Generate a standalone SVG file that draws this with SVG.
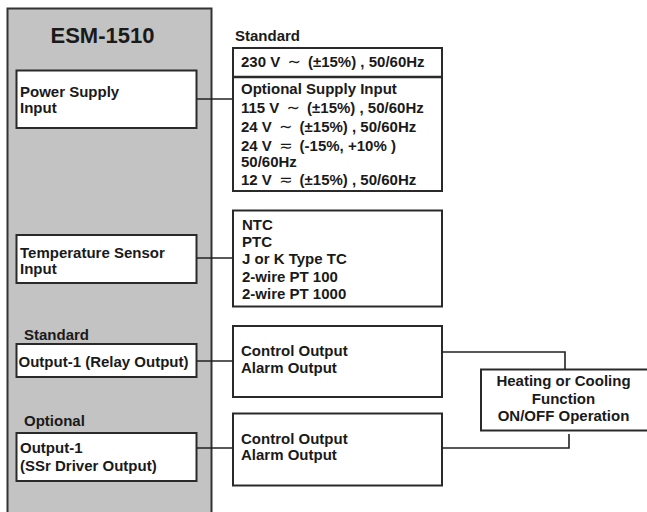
<svg xmlns="http://www.w3.org/2000/svg" width="647" height="512" viewBox="0 0 647 512">
<style>
text{font-family:"Liberation Sans",Arial,sans-serif;font-weight:bold;font-size:15px;fill:#1a1a1a}
.title{font-size:22px;text-anchor:middle}
.mid{text-anchor:middle}
.sym{font-family:"DejaVu Sans",sans-serif;font-weight:normal;font-size:16px}
.box{fill:#fff;stroke:#2a2a2a;stroke-width:2}
.panel{fill:#c3c3c3;stroke:#333;stroke-width:2}
.conn{fill:none;stroke:#222;stroke-width:1.6}
</style>
<g id="panel">
<rect class="panel" x="7.5" y="8.5" width="204" height="520"/>
<text class="title" x="102.5" y="43">ESM-1510</text>
</g>
<g id="power-input">
<rect class="box" x="16.5" y="70.5" width="180" height="57.5"/>
<text x="20" y="97">Power Supply</text>
<text x="20" y="113">Input</text>
</g>
<g id="temp-input">
<rect class="box" x="16.5" y="235" width="180" height="48"/>
<text x="20" y="257.5">Temperature Sensor</text>
<text x="20" y="274">Input</text>
</g>
<g id="relay-output">
<text x="24" y="340">Standard</text>
<rect class="box" x="16.5" y="344" width="180" height="33"/>
<text x="18.5" y="366.5">Output-1 (Relay Output)</text>
</g>
<g id="ssr-output">
<text x="24" y="426">Optional</text>
<rect class="box" x="16.5" y="433" width="180" height="48"/>
<text x="20" y="453">Output-1</text>
<text x="20" y="470.5">(SSr Driver Output)</text>
</g>
<g id="supply-options">
<text x="235" y="41">Standard</text>
<rect class="box" x="233" y="48" width="209" height="143"/>
<line x1="233" y1="77" x2="442" y2="77" stroke="#2a2a2a" stroke-width="2.5"/>
<text x="241" y="66.5">230 V <tspan class="sym" dx="3">∼</tspan><tspan dx="3"> (±15%) , 50/60Hz</tspan></text>
<text x="241" y="93.5">Optional Supply Input</text>
<text x="241" y="112.5">115 V <tspan class="sym" dx="3">∼</tspan><tspan dx="3"> (±15%) , 50/60Hz</tspan></text>
<text x="241" y="131.5">24 V <tspan class="sym" dx="3">∼</tspan><tspan dx="3"> (±15%) , 50/60Hz</tspan></text>
<text x="241" y="150.5">24 V <tspan class="sym" dx="3">≂</tspan><tspan dx="3"> (-15%, +10% )</tspan></text>
<text x="241" y="167">50/60Hz</text>
<text x="241" y="185">12 V <tspan class="sym" dx="3">≂</tspan><tspan dx="3"> (±15%) , 50/60Hz</tspan></text>
</g>
<g id="sensor-types">
<rect class="box" x="233" y="210.5" width="209" height="96"/>
<text x="242" y="229.5">NTC</text>
<text x="242" y="247">PTC</text>
<text x="242" y="264">J or K Type TC</text>
<text x="242" y="281.5">2-wire PT 100</text>
<text x="242" y="298.5">2-wire PT 1000</text>
</g>
<g id="relay-functions">
<rect class="box" x="233" y="326" width="209" height="71"/>
<text x="241" y="356">Control Output</text>
<text x="241" y="372.5">Alarm Output</text>
</g>
<g id="ssr-functions">
<rect class="box" x="233" y="413.5" width="209" height="72"/>
<text x="241" y="443.5">Control Output</text>
<text x="241" y="460">Alarm Output</text>
</g>
<g id="heating-cooling">
<rect class="box" x="481" y="369.5" width="170" height="61"/>
<text class="mid" x="563.5" y="386">Heating or Cooling</text>
<text class="mid" x="563.5" y="403.5">Function</text>
<text class="mid" x="563.5" y="420.5">ON/OFF Operation</text>
</g>
<g id="connectors">
<path class="conn" d="M197 99H233"/>
<path class="conn" d="M197 258H233"/>
<path class="conn" d="M197 361H233"/>
<path class="conn" d="M197 448H233"/>
<path class="conn" d="M442 352H565V369"/>
<path class="conn" d="M442 448H569V434"/>
</g>
</svg>
